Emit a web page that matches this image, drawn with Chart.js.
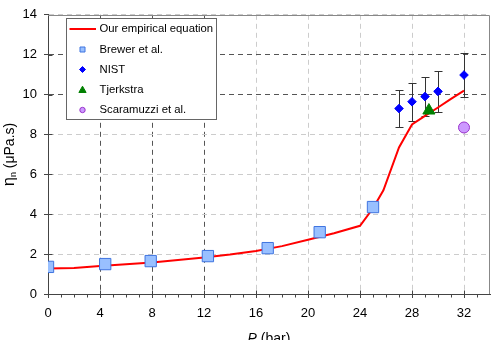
<!DOCTYPE html>
<html><head><meta charset="utf-8">
<script src="https://cdn.jsdelivr.net/npm/chart.js@4/dist/chart.umd.min.js"></script>
<style>
html,body{margin:0;padding:0;overflow:hidden;background:#fff;width:499px;height:340px}
#wrap{width:499px;height:350px;position:relative}
canvas{display:block}
</style>
</head><body><div id="wrap"><canvas id="c" width="499" height="350"></canvas></div>
<script>
// ---- data ----
const equationP   = [0, 2, 4, 6, 8, 10, 12, 14, 16, 18, 20, 22, 24, 25, 25.8, 27, 28, 29, 30, 31, 32];
const equationEta = [1.28, 1.3, 1.41, 1.49, 1.58, 1.7, 1.83, 1.98, 2.16, 2.4, 2.72, 3.05, 3.42, 4.3, 5.2, 7.35, 8.5, 8.93, 9.35, 9.78, 10.2];
const brewerP   = [0, 4.4, 7.9, 12.3, 16.9, 20.9, 25.0];
const brewerEta = [1.36, 1.5, 1.65, 1.9, 2.3, 3.1, 4.36];
const nistP   = [27, 28, 29, 30, 32];
const nistEta = [9.3, 9.64, 9.9, 10.16, 10.98];
const nistErr = [0.92, 0.96, 0.98, 1.02, 1.08];
const tjerkstraP = [29.3];
const tjerkstraEta = [9.2];
const scaramuzziP = [32];
const scaramuzziEta = [8.35];
const xTicks = [0, 4, 8, 12, 16, 20, 24, 28, 32];
const yTicks = [0, 2, 4, 6, 8, 10, 12, 14];
const darkX = [4, 8, 12];
const darkY = [10, 12];
const seriesNames = ['Our empirical equation', 'Brewer et al.', 'NIST', 'Tjerkstra', 'Scaramuzzi et al.'];

const FONT = "'Liberation Sans', Arial, sans-serif";
const pts = (xs, ys) => xs.map((v, i) => ({x: v, y: ys[i]}));

function shape(ctx, kind, x, y, s) {
  ctx.beginPath();
  if (kind === 'rect') ctx.rect(x - s, y - s, 2 * s, 2 * s);
  else if (kind === 'diamond') { ctx.moveTo(x - s, y); ctx.lineTo(x, y - s); ctx.lineTo(x + s, y); ctx.lineTo(x, y + s); ctx.closePath(); }
  else if (kind === 'tri') { ctx.moveTo(x, y - s); ctx.lineTo(x + s * 0.95, y + s * 0.65); ctx.lineTo(x - s * 0.95, y + s * 0.65); ctx.closePath(); }
  else if (kind === 'circle') ctx.arc(x, y, s, 0, Math.PI * 2);
}

const decor = {
  id: 'decor',
  beforeDatasetsDraw(chart) {
    const {ctx, scales: {x, y}} = chart;
    ctx.save();
    ctx.strokeStyle = '#333'; ctx.lineWidth = 1;
    nistP.forEach((p, i) => {
      const px = Math.round(x.getPixelForValue(p)) + 0.5;
      const y1 = Math.round(y.getPixelForValue(nistEta[i] + nistErr[i])) + 0.5;
      const y2 = Math.round(y.getPixelForValue(nistEta[i] - nistErr[i])) + 0.5;
      ctx.beginPath();
      ctx.moveTo(px, y1); ctx.lineTo(px, y2);
      ctx.moveTo(px - 4, y1); ctx.lineTo(px + 4, y1);
      ctx.moveTo(px - 4, y2); ctx.lineTo(px + 4, y2);
      ctx.stroke();
    });
    ctx.restore();
  },
  afterDraw(chart) {
    const {ctx, chartArea: a, scales: {x, y}} = chart;
    ctx.save();
    // frame top/right
    ctx.strokeStyle = '#888'; ctx.lineWidth = 1;
    ctx.beginPath();
    ctx.moveTo(a.left, Math.round(a.top) + 0.5); ctx.lineTo(Math.round(a.right) - 0.5, Math.round(a.top) + 0.5);
    ctx.lineTo(Math.round(a.right) - 0.5, a.bottom);
    ctx.stroke();
    // inner ticks & minor ticks
    ctx.strokeStyle = '#444';
    ctx.beginPath();
    const by = Math.round(a.bottom) + 0.5;
    for (let v = 1; v <= 33; v++) {
      const px = Math.round(x.getPixelForValue(v)) + 0.5;
      if (v % 4 === 0) { ctx.moveTo(px, by); ctx.lineTo(px, by - 4); }
      else { ctx.moveTo(px, by); ctx.lineTo(px, by + 3); }
    }
    const lx = Math.round(a.left) + 0.5;
    yTicks.forEach(v => {
      if (v === 0 || v === 14) return;
      const py = Math.round(y.getPixelForValue(v)) + 0.5;
      ctx.moveTo(lx, py); ctx.lineTo(lx + 4, py);
    });
    ctx.stroke();

    // x title
    ctx.fillStyle = '#000';
    ctx.textBaseline = 'middle';
    const cx = (a.left + a.right) / 2;
    ctx.font = 'italic 14px ' + FONT;
    const wP = ctx.measureText('P').width;
    ctx.font = '14px ' + FONT;
    const wR = ctx.measureText(' (bar)').width;
    let sx = cx - (wP + wR) / 2;
    ctx.font = 'italic 14px ' + FONT; ctx.textAlign = 'left';
    ctx.fillText('P', sx, 339);
    ctx.font = '14px ' + FONT;
    ctx.fillText(' (bar)', sx + wP, 339);

    // y title (rotated)
    ctx.save();
    ctx.translate(9, (a.top + a.bottom) / 2);
    ctx.rotate(-Math.PI / 2);
    ctx.font = '16px ' + FONT; const w1 = ctx.measureText('η').width;
    ctx.font = '9px ' + FONT; const w2 = ctx.measureText('n').width;
    ctx.font = '14px ' + FONT; const w3 = ctx.measureText(' (μPa.s)').width;
    let tx = -(w1 + w2 + w3) / 2;
    ctx.textBaseline = 'alphabetic';
    ctx.font = '16px ' + FONT; ctx.fillText('η', tx, 5);
    ctx.font = '9px ' + FONT; ctx.fillText('n', tx + w1, 7);
    ctx.font = '14px ' + FONT; ctx.fillText(' (μPa.s)', tx + w1 + w2, 5);
    ctx.restore();

    // legend
    const L = 66.5, T = 18.5, W = 150, H = 101;
    ctx.fillStyle = '#fff';
    ctx.fillRect(L, T, W, H);
    ctx.strokeStyle = '#666'; ctx.lineWidth = 1;
    ctx.strokeRect(L, T, W, H);
    const rows = [29, 49.5, 69.5, 90, 110];
    ctx.font = '11.3px ' + FONT; ctx.textBaseline = 'middle'; ctx.textAlign = 'left';
    seriesNames.forEach((name, i) => {
      const ry = rows[i];
      ctx.fillStyle = '#000';
      ctx.fillText(name, 99.5, ry);
      const ds = chart.data.datasets[i];
      if (i === 0) {
        ctx.strokeStyle = ds.borderColor; ctx.lineWidth = 2;
        ctx.beginPath(); ctx.moveTo(69.5, ry); ctx.lineTo(96, ry); ctx.stroke();
      } else {
        const kinds = [null, 'rect', 'diamond', 'tri', 'circle'];
        const sizes = [0, 2.5, 3, 3.8, 2.7];
        ctx.fillStyle = ds.backgroundColor; ctx.strokeStyle = ds.borderColor; ctx.lineWidth = 1;
        shape(ctx, kinds[i], 82.5, ry, sizes[i]);
        ctx.fill(); ctx.stroke();
      }
    });
    ctx.restore();
  }
};

const gridColor = dark => c => {
  const v = c.tick ? c.tick.value : null;
  if (v === 0) return 'rgba(0,0,0,0)';
  return dark.includes(v) ? '#555' : '#cccccc';
};

new Chart(document.getElementById('c'), {
  type: 'scatter',
  data: {
    datasets: [
      {label: seriesNames[0], data: pts(equationP, equationEta), showLine: true, borderColor: '#ff0000', backgroundColor: '#ff0000', borderWidth: 2, pointRadius: 0, tension: 0, order: 5},
      {label: seriesNames[1], data: pts(brewerP, brewerEta), pointStyle: 'rect', pointRadius: 8, backgroundColor: '#99c0ff', borderColor: '#3f74e0', borderWidth: 1, order: 1},
      {label: seriesNames[2], data: pts(nistP, nistEta), pointStyle: 'rectRot', pointRadius: 4.3, backgroundColor: '#0000ff', borderColor: '#0000ff', borderWidth: 1, order: 0},
      {label: seriesNames[3], data: pts(tjerkstraP, tjerkstraEta), pointStyle: 'triangle', pointRadius: 7, backgroundColor: '#008000', borderColor: '#008000', borderWidth: 1, order: 0},
      {label: seriesNames[4], data: pts(scaramuzziP, scaramuzziEta), pointStyle: 'circle', pointRadius: 5.5, backgroundColor: '#cc99ff', borderColor: '#9933cc', borderWidth: 1, order: 0}
    ]
  },
  options: {
    responsive: false,
    animation: false,
    devicePixelRatio: 1,
    layout: {padding: {top: 8, right: 3, left: 0, bottom: 0}},
    plugins: {legend: {display: false}, tooltip: {enabled: false}},
    scales: {
      x: {
        type: 'linear', min: 0, max: 34, position: 'bottom',
        afterBuildTicks: s => { s.ticks = xTicks.map(v => ({value: v})); },
        afterFit: s => { s.height = 56; },
        ticks: {font: {family: FONT, size: 13}, color: '#000', padding: 8, maxRotation: 0, autoSkip: false},
        grid: {color: gridColor(darkX), lineWidth: 1, drawTicks: true, tickLength: 4, tickColor: '#444'},
        border: {display: true, color: '#444', width: 1, dash: [5, 4]},
        title: {display: false}
      },
      y: {
        type: 'linear', min: 0, max: 14,
        afterBuildTicks: s => { s.ticks = yTicks.map(v => ({value: v})); },
        afterFit: s => { s.width = 48; },
        ticks: {font: {family: FONT, size: 13}, color: '#000', padding: 7},
        grid: {color: gridColor(darkY), lineWidth: 1, drawTicks: true, tickLength: 4, tickColor: '#444'},
        border: {display: true, color: '#444', width: 1, dash: [5, 4]},
        title: {display: false}
      }
    }
  },
  plugins: [decor]
});
</script>
</body></html>
